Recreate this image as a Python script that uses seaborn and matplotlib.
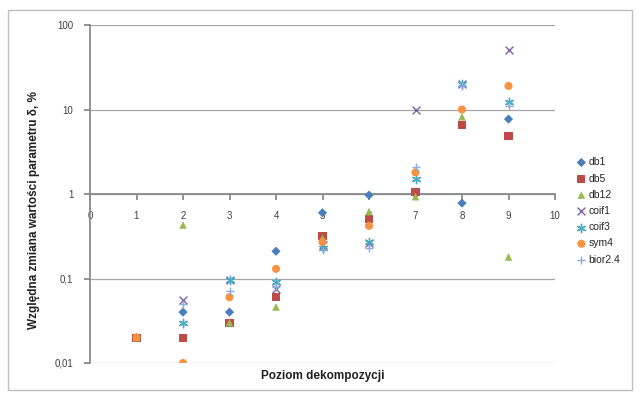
import numpy as np
import pandas as pd
import matplotlib
matplotlib.use("Agg")
import matplotlib.pyplot as plt
import matplotlib.ticker as ticker
import seaborn as sns

sns.set_theme(style="white")
plt.rcParams['font.family'] = ['Liberation Sans', 'DejaVu Sans']

levels = [1, 2, 3, 4, 5, 6, 7, 8, 9]
nan = np.nan
db1 = [0.02, 0.04, 0.04, 0.21, 0.6, 0.97, 1.0, 0.78, 7.7]
db5 = [0.02, 0.02, 0.03, 0.06, 0.32, 0.5, 1.05, 6.6, 4.9]
db12 = [0.02, 0.43, 0.03, 0.046, 0.3, 0.62, 0.93, 8.2, 0.18]
coif1 = [nan, 0.055, 0.095, 0.075, 0.25, 0.26, 10, 20, 50]
coif3 = [nan, 0.03, 0.095, 0.09, 0.23, 0.27, 1.5, 20, 12.3]
sym4 = [0.02, 0.01, 0.06, 0.13, 0.27, 0.42, 1.8, 10, 19]
bior24 = [nan, 0.05, 0.072, 0.08, 0.22, 0.23, 2.1, 19, 11]

series = {'db1': db1, 'db5': db5, 'db12': db12, 'coif1': coif1,
          'coif3': coif3, 'sym4': sym4, 'bior2.4': bior24}
colors = {'db1': '#4A7EBB', 'db5': '#BE4B48', 'db12': '#98B954', 'coif1': '#7D60A0',
          'coif3': '#46AAC5', 'sym4': '#F69240', 'bior2.4': '#8EA9DB'}
markers = {'db1': 'D', 'db5': 's', 'db12': '^', 'coif1': 'x',
           'coif3': (6, 2, 0), 'sym4': 'o', 'bior2.4': '+'}
sizes = {'db1': 22, 'db5': 34, 'db12': 30, 'coif1': 32,
         'coif3': 36, 'sym4': 34, 'bior2.4': 40}

df = pd.DataFrame([(name, x, v) for name, vals in series.items()
                   for x, v in zip(levels, vals)],
                  columns=['wavelet', 'level', 'value']).dropna()

fig = plt.figure(figsize=(6.4, 3.94), dpi=100)
ax = fig.add_axes([90/640, 1 - 363/394, 465/640, 338/394])

for name in series:
    sub = df[df['wavelet'] == name]
    filled = markers[name] not in ('x', '+', (6, 2, 0))
    kw = dict(edgecolor='none') if filled else dict(linewidth=1.0)
    sns.scatterplot(data=sub, x='level', y='value', color=colors[name],
                    marker=markers[name], s=sizes[name], label=name,
                    ax=ax, zorder=3, **kw)

ax.set_yscale('log')
ax.set_ylim(0.01, 100)
ax.set_xlim(0, 10)
ax.set_xticks(range(0, 11))
ax.yaxis.set_major_formatter(ticker.FuncFormatter(
    lambda v, p: f'{v:g}'.replace('.', ',')))
ax.yaxis.set_minor_locator(ticker.NullLocator())
ax.grid(axis='y', color='#A6A6A6', linewidth=0.9)
ax.grid(axis='x', visible=False)

for s in ['top', 'right']:
    ax.spines[s].set_visible(False)
ax.spines['bottom'].set_position(('data', 1))
ax.spines['bottom'].set_color('#868686')
ax.spines['left'].set_color('#868686')
ax.tick_params(axis='x', direction='out', length=4, color='#868686',
               labelsize=7, labelcolor='#404040', bottom=True, pad=8)
ax.tick_params(axis='y', direction='out', length=4, color='#868686',
               labelsize=7, labelcolor='#404040', left=True, pad=8)

ax.set_xlabel('')
ax.set_ylabel('')
fig.text(323/640, 1 - 376/394, 'Poziom dekompozycji', ha='center', va='center',
         fontsize=8.5, fontweight='bold', color='#202020')
fig.text(34/640, 1 - 210/394, 'Względna zmiana wartości parametru δ, %', ha='center',
         va='center', rotation=90, fontsize=8.5, fontweight='bold', color='#202020')

ax.legend(loc='center left', bbox_to_anchor=(572/640, 1 - 211/394),
          bbox_transform=fig.transFigure, frameon=False, fontsize=7.5,
          handletextpad=0.2, labelspacing=0.6, handlelength=1.0,
          borderaxespad=0)

fig.patches.append(plt.Rectangle((8/640, 1 - 390/394), 624/640, 380/394,
                                 transform=fig.transFigure, fill=False,
                                 edgecolor='#BFBFBF', linewidth=1))

fig.savefig('out.png', dpi=100)
